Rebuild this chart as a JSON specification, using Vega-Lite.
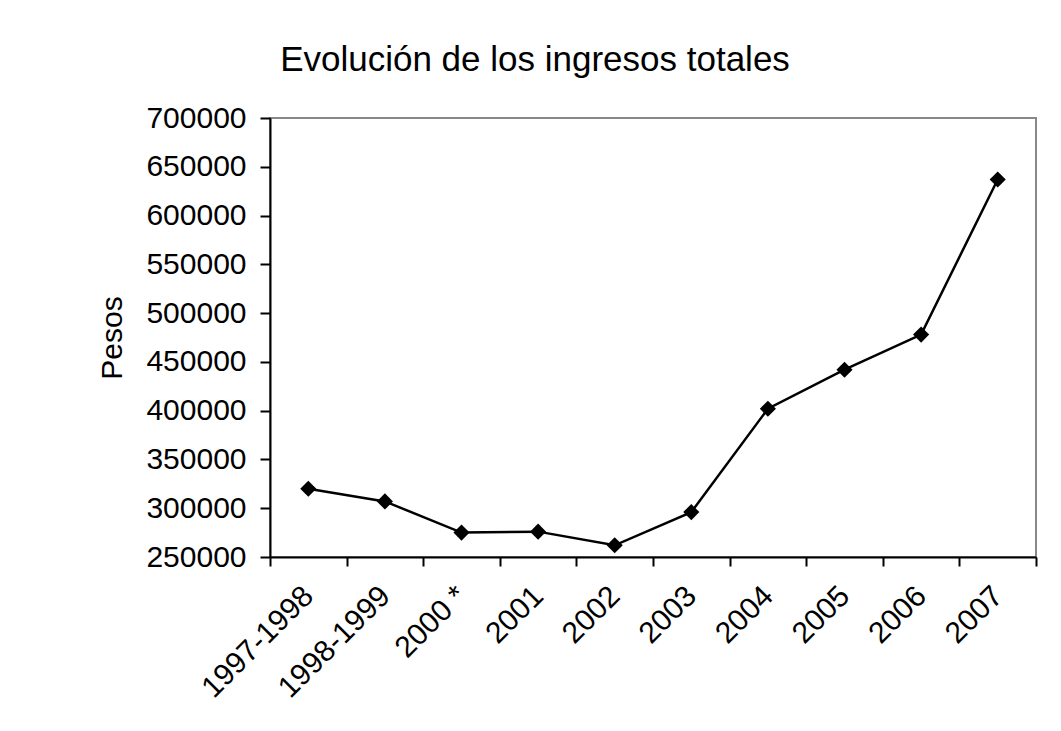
{
  "$schema": "https://vega.github.io/schema/vega-lite/v6.json",
  "width": 766,
  "height": 439,
  "autosize": {"type": "none"},
  "padding": {"left": 270, "top": 118, "right": 25, "bottom": 174},
  "background": "white",
  "title": {
    "text": "Evolución de los ingresos totales",
    "font": "Liberation Sans",
    "fontSize": 35,
    "fontWeight": "normal",
    "color": "black",
    "anchor": "middle",
    "dx": -118,
    "offset": 25
  },
  "config": {
    "view": {"stroke": "#888888", "strokeWidth": 2},
    "axis": {
      "labelFont": "Liberation Sans",
      "titleFont": "Liberation Sans",
      "labelColor": "black",
      "titleColor": "black",
      "domainColor": "black",
      "tickColor": "black",
      "domainWidth": 2,
      "tickWidth": 2,
      "grid": false
    }
  },
  "data": {
    "values": [
      {"periodo": "1997-1998", "pesos": 320000},
      {"periodo": "1998-1999", "pesos": 307000},
      {"periodo": "2000 *", "pesos": 275000},
      {"periodo": "2001", "pesos": 276000},
      {"periodo": "2002", "pesos": 262000},
      {"periodo": "2003", "pesos": 296000},
      {"periodo": "2004", "pesos": 402000},
      {"periodo": "2005", "pesos": 442000},
      {"periodo": "2006", "pesos": 478000},
      {"periodo": "2007", "pesos": 637000}
    ]
  },
  "mark": {
    "type": "line",
    "color": "black",
    "strokeWidth": 2.5,
    "point": {"shape": "diamond", "filled": true, "color": "black", "size": 260, "opacity": 1}
  },
  "encoding": {
    "x": {
      "field": "periodo",
      "type": "ordinal",
      "sort": null,
      "scale": {"type": "band", "paddingInner": 0, "paddingOuter": 0},
      "axis": {
        "title": null,
        "labelAngle": -45,
        "labelAlign": "right",
        "labelBaseline": "middle",
        "labelFontSize": 30,
        "tickBand": "extent",
        "tickSize": 9,
        "labelPadding": 25,
        "labelOverlap": false
      }
    },
    "y": {
      "field": "pesos",
      "type": "quantitative",
      "scale": {"domain": [250000, 700000], "nice": false, "zero": false},
      "axis": {
        "title": "Pesos",
        "titleFontSize": 30,
        "titleFontWeight": "normal",
        "titlePadding": 18,
        "labelFontSize": 30,
        "format": "d",
        "values": [250000, 300000, 350000, 400000, 450000, 500000, 550000, 600000, 650000, 700000],
        "tickSize": 10,
        "labelPadding": 14
      }
    }
  }
}
